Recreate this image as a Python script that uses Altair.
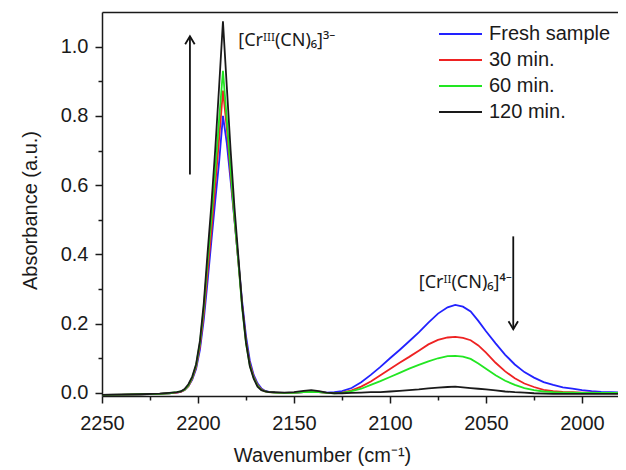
import altair as alt
import pandas as pd

# ---------------- data ----------------
wavenumber = [2250, 2240, 2230, 2220, 2215,
              2211, 2209, 2207, 2205, 2203, 2201, 2199, 2197, 2195, 2193, 2191, 2189,
              2187,
              2185, 2183, 2181, 2179, 2177, 2175, 2173, 2171, 2169, 2167, 2165, 2163,
              2160, 2155, 2150, 2145, 2141, 2137, 2133, 2129, 2125,
              2120, 2115, 2110, 2105, 2100, 2095, 2090, 2085, 2080, 2075, 2070,
              2066, 2062, 2058, 2054,
              2050, 2045, 2040, 2035, 2030, 2025, 2020, 2015, 2010, 2005, 2000,
              1995, 1990, 1985, 1980, 1977]

fresh = [-0.006, -0.005, -0.004, -0.003, -0.001,
         0.001, 0.003, 0.0085, 0.019, 0.0385, 0.069, 0.124, 0.211, 0.323, 0.440, 0.556, 0.667,
         0.800,
         0.721, 0.612, 0.499, 0.381, 0.264, 0.164, 0.093, 0.052, 0.0275, 0.013, 0.0055, 0.003,
         0.001, 0.000, 0.000, 0.002, 0.003, 0.002, 0.001, 0.002, 0.005,
         0.014, 0.031, 0.052, 0.075, 0.100, 0.124, 0.149, 0.175, 0.203, 0.229, 0.247,
         0.254, 0.249, 0.235, 0.208,
         0.178, 0.143, 0.110, 0.082, 0.060, 0.044, 0.031, 0.023, 0.016, 0.012, 0.008,
         0.005, 0.003, 0.002, 0.001, 0.001]

min30 = [-0.006, -0.005, -0.004, -0.003, -0.001,
         0.001, 0.003, 0.008, 0.019, 0.041, 0.074, 0.134, 0.228, 0.350, 0.470, 0.600, 0.735,
         0.873,
         0.765, 0.630, 0.500, 0.380, 0.253, 0.150, 0.084, 0.047, 0.023, 0.010, 0.0045, 0.002,
         0.001, 0.000, 0.000, 0.002, 0.003, 0.002, 0.000, 0.000, 0.001,
         0.007, 0.018, 0.033, 0.051, 0.069, 0.087, 0.104, 0.122, 0.140, 0.153, 0.160,
         0.162, 0.159, 0.152, 0.137,
         0.116, 0.087, 0.062, 0.042, 0.027, 0.017, 0.009, 0.005, 0.003, 0.002, 0.001,
         0.001, 0.000, 0.000, 0.000, 0.000]

min60 = [-0.006, -0.005, -0.004, -0.003, -0.001,
         0.002, 0.004, 0.009, 0.021, 0.044, 0.079, 0.144, 0.245, 0.380, 0.505, 0.645, 0.790,
         0.930,
         0.790, 0.645, 0.505, 0.380, 0.245, 0.144, 0.079, 0.044, 0.021, 0.009, 0.004, 0.002,
         0.001, 0.000, 0.000, 0.002, 0.003, 0.002, 0.000, -0.001, 0.000,
         0.005, 0.012, 0.023, 0.034, 0.046, 0.058, 0.070, 0.081, 0.091, 0.100, 0.106,
         0.107, 0.105, 0.098, 0.085,
         0.070, 0.051, 0.035, 0.023, 0.014, 0.008, 0.004, 0.002, 0.001, 0.001, 0.000,
         0.000, 0.000, 0.000, 0.000, 0.000]

min120 = [-0.006, -0.005, -0.004, -0.002, 0.000,
          0.002, 0.004, 0.011, 0.025, 0.047, 0.083, 0.150, 0.258, 0.405, 0.545, 0.705, 0.885,
          1.073,
          0.885, 0.700, 0.535, 0.395, 0.252, 0.145, 0.077, 0.041, 0.018, 0.008, 0.004, 0.002,
          0.002, 0.001, 0.002, 0.006, 0.008, 0.005, 0.001, -0.001, -0.001,
          0.000, 0.001, 0.002, 0.002, 0.004, 0.006, 0.008, 0.010, 0.013, 0.015, 0.017,
          0.018, 0.016, 0.014, 0.012,
          0.010, 0.007, 0.004, 0.002, 0.001, -0.001, -0.002, -0.003, -0.003, -0.003, -0.003,
          -0.003, -0.003, -0.003, -0.003, -0.003]

series_names = ["Fresh sample", "30 min.", "60 min.", "120 min."]
series_colors = ["#2222ff", "#ee2222", "#22e622", "#1a1a1a"]

x_major = [2250, 2200, 2150, 2100, 2050, 2000]
x_minor = [2225, 2175, 2125, 2075, 2025]
y_major = [0.0, 0.2, 0.4, 0.6, 0.8, 1.0]
y_minor = [0.1, 0.3, 0.5, 0.7, 0.9]

ann_text = ["[Crᴵᴵᴵ(CN)₆]³⁻", "[Crᴵᴵ(CN)₆]⁴⁻"]
ann_wn = [2179, 2085]
ann_abs = [1.015, 0.317]

arrow_wn = [2204.2, 2035.8]
arrow_tail = [0.631, 0.452]
arrow_tip = [1.03, 0.184]
arrow_dir = ["up", "down"]

# ---------------- tables ----------------
rows = []
for name, vals in zip(series_names, [fresh, min30, min60, min120]):
    for i, (w, a) in enumerate(zip(wavenumber, vals)):
        rows.append({"wn": w, "absorb": a, "sample": name, "idx": i})
df = pd.DataFrame(rows)

ann_df = pd.DataFrame({"wn": ann_wn, "absorb": ann_abs, "label": ann_text})
arr_df = pd.DataFrame({"wn": arrow_wn, "tail": arrow_tail, "tip": arrow_tip, "dir": arrow_dir})

FONT = "Liberation Sans"
INK = "#1a1a1a"

x_scale = alt.Scale(domain=[2250, 1981.25], nice=False, zero=False)
y_scale = alt.Scale(domain=[-0.009, 1.1], nice=False, zero=False)

x_axis = alt.Axis(
    orient="bottom", values=x_major, format="d", tickSize=7, labelPadding=10,
    labelFlush=False,
    title="Wavenumber (cm⁻¹)", titleX=220, titleY=65,
    titleBaseline="alphabetic", titleAlign="center",
)
y_axis = alt.Axis(
    orient="left", values=y_major, format=".1f", tickSize=7, labelPadding=7,
    title="Absorbance (a.u.)", titleX=-72, titleY=198, titleAngle=270,
    titleBaseline="middle", titleAlign="center",
)

lines = alt.Chart(df).mark_line(strokeWidth=1.8, clip=True).encode(
    x=alt.X("wn:Q", scale=x_scale, axis=x_axis),
    y=alt.Y("absorb:Q", scale=y_scale, axis=y_axis),
    color=alt.Color(
        "sample:N",
        scale=alt.Scale(domain=series_names, range=series_colors),
        legend=alt.Legend(
            title=None, orient="none", legendX=336, legendY=11,
            symbolType="stroke", symbolSize=1849, symbolStrokeWidth=2,
            labelFont=FONT, labelFontSize=20, labelColor=INK, labelOffset=6,
            clipHeight=22, rowPadding=4, padding=0, symbolOffset=0,
        ),
    ),
    order=alt.Order("idx:Q"),
)

minor = alt.Chart(ann_df).mark_point(opacity=0).encode(
    x=alt.X("wn:Q", scale=x_scale,
            axis=alt.Axis(orient="bottom", values=x_minor, tickSize=4, labels=False,
                          domain=False, title=None)),
    y=alt.Y("absorb:Q", scale=y_scale,
            axis=alt.Axis(orient="left", values=y_minor, tickSize=4, labels=False,
                          domain=False, title=None)),
)

frame = alt.Chart(ann_df).mark_point(opacity=0).encode(
    x=alt.X("wn:Q", scale=x_scale,
            axis=alt.Axis(orient="top", labels=False, ticks=False, title=None)),
    y=alt.Y("absorb:Q", scale=y_scale, axis=None),
)

texts = alt.Chart(ann_df).mark_text(
    align="left", baseline="middle", font="Noto Sans", fontSize=18, color=INK
).encode(
    x=alt.X("wn:Q", scale=x_scale, axis=None),
    y=alt.Y("absorb:Q", scale=y_scale, axis=None),
    text="label:N",
)

shafts = alt.Chart(arr_df).mark_rule(strokeWidth=1.8, color="#111111").encode(
    x=alt.X("wn:Q", scale=x_scale, axis=None),
    y=alt.Y("tail:Q", scale=y_scale, axis=None),
    y2="tip:Q",
)

heads = alt.Chart(arr_df).mark_point(
    filled=False, size=100, strokeWidth=1.8, color="#111111", opacity=1
).encode(
    x=alt.X("wn:Q", scale=x_scale, axis=None),
    y=alt.Y("tip:Q", scale=y_scale, axis=None),
    shape=alt.Shape(
        "dir:N",
        scale=alt.Scale(domain=["up", "down"],
                        range=["M -0.95 1.6 L 0 0 L 0.95 1.6", "M -0.95 -1.6 L 0 0 L 0.95 -1.6"]),
        legend=None,
    ),
)

chart = alt.layer(lines, minor, frame, texts, shafts, heads).resolve_axis(
    x="independent", y="independent"
).properties(
    width=516, height=384,
    autosize=alt.AutoSizeParams(type="none"),
    padding={"left": 94, "top": 4, "right": 0, "bottom": 70},
).configure_view(
    stroke=None
).configure_axis(
    grid=False,
    domainColor=INK, domainWidth=1.5,
    tickColor=INK, tickWidth=1.5,
    labelFont=FONT, labelFontSize=20, labelColor=INK,
    titleFont=FONT, titleFontSize=20, titleColor=INK, titleFontWeight="normal",
)

chart.save("out.html", embed_options={"renderer": "svg", "actions": False})
